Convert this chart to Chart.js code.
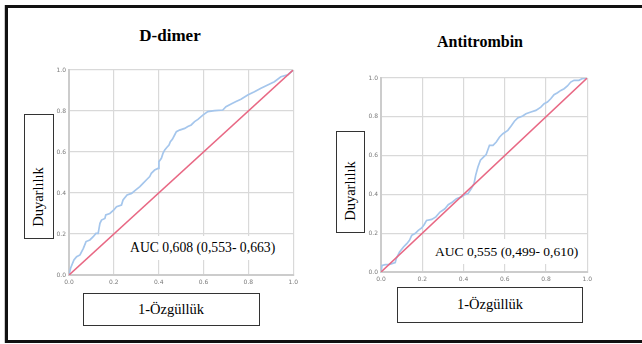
<!DOCTYPE html>
<html>
<head>
<meta charset="utf-8">
<script src="https://cdn.jsdelivr.net/npm/chart.js@4/dist/chart.umd.min.js"></script>
<style>
  html, body { margin:0; padding:0; background:#fff; width:642px; height:344px; overflow:hidden; }
  .frame { position:absolute; left:5px; top:5px; width:700px; height:332px; border:3px solid #111; border-right:none; box-shadow:-1px 0 0 #ccc; }
  .abs { position:absolute; font-family:"Liberation Serif","Times New Roman",serif; color:#000; white-space:nowrap; }
  .title { font-weight:bold; font-size:17px; transform:translate(-50%,-50%); }
  .box { position:absolute; border:1px solid #333; background:#fff; }
  .lbl { font-size:14.5px; transform:translate(-50%,-50%); }
  .ylbl { font-size:14.5px; transform:translate(-50%,-50%) rotate(-90deg); }
  .auc { position:absolute; background:#fff; font-family:"Liberation Serif","Times New Roman",serif; font-size:13.7px; display:flex; align-items:center; justify-content:flex-start; white-space:nowrap; box-sizing:border-box; }
  canvas { position:absolute; }
</style>
</head>
<body>
<div class="frame"></div>

<canvas id="c1" width="252" height="227" style="left:50px;top:62px;width:252px;height:227px"></canvas>
<canvas id="c2" width="234" height="216" style="left:362px;top:70px;width:234px;height:216px"></canvas>

<div class="abs title" style="left:170px;top:36px">D-dimer</div>
<div class="abs title" style="left:480px;top:42px;font-size:16px">Antitrombin</div>

<div class="box" style="left:24px;top:114px;width:28px;height:123px"></div>
<div class="abs ylbl" style="left:38px;top:197px">Duyarlılık</div>
<div class="box" style="left:336px;top:131px;width:27px;height:100px"></div>
<div class="abs ylbl" style="left:350px;top:191px">Duyarlılık</div>

<div class="box" style="left:83px;top:293px;width:175px;height:31px"></div>
<div class="abs lbl" style="left:171px;top:309px">1-Özgüllük</div>
<div class="box" style="left:397px;top:287px;width:184px;height:34px"></div>
<div class="abs lbl" style="left:490px;top:304px">1-Özgüllük</div>

<div class="auc" style="left:127px;top:236px;width:166px;height:24px;padding-left:3px">AUC 0,608 (0,553- 0,663)</div>
<div class="auc" style="left:432px;top:239px;width:155px;height:25px;font-size:13.5px;padding-left:3px">AUC 0,555 (0,499- 0,610)</div>

<script>
// ---- Data ----
const ddimerFpr = [0,0.007,0.022,0.034,0.049,0.064,0.076,0.093,0.108,0.12,0.13,0.138,0.145,0.16,0.164,0.182,0.2,0.212,0.234,0.241,0.259,0.279,0.298,0.316,0.33,0.348,0.36,0.367,0.382,0.397,0.401,0.412,0.419,0.427,0.437,0.446,0.452,0.461,0.471,0.479,0.493,0.516,0.53,0.545,0.56,0.575,0.597,0.619,0.649,0.686,0.70,0.723,0.745,0.767,0.797,0.827,0.856,0.886,0.916,0.945,0.975,1];
const ddimerTpr = [0,0.033,0.073,0.089,0.098,0.13,0.163,0.171,0.187,0.203,0.203,0.252,0.268,0.276,0.293,0.30,0.317,0.333,0.341,0.366,0.39,0.398,0.415,0.431,0.447,0.467,0.48,0.496,0.512,0.52,0.553,0.569,0.593,0.61,0.623,0.634,0.65,0.662,0.683,0.699,0.707,0.715,0.724,0.732,0.748,0.759,0.78,0.797,0.802,0.805,0.821,0.834,0.846,0.857,0.878,0.894,0.911,0.927,0.943,0.967,0.976,1];

const atFpr = [0,0.005,0.021,0.037,0.053,0.069,0.074,0.09,0.109,0.125,0.138,0.149,0.165,0.181,0.197,0.209,0.221,0.246,0.266,0.286,0.31,0.326,0.347,0.366,0.39,0.406,0.422,0.438,0.451,0.459,0.47,0.482,0.498,0.51,0.526,0.543,0.559,0.575,0.591,0.615,0.631,0.647,0.663,0.687,0.703,0.727,0.751,0.775,0.791,0.807,0.823,0.839,0.856,0.872,0.888,0.904,0.92,0.936,0.96,0.976,1];
const atTpr = [0,0.034,0.038,0.038,0.043,0.048,0.069,0.103,0.129,0.146,0.163,0.189,0.198,0.215,0.227,0.244,0.266,0.271,0.284,0.309,0.326,0.347,0.361,0.378,0.387,0.399,0.404,0.43,0.455,0.498,0.541,0.576,0.593,0.605,0.653,0.653,0.67,0.696,0.713,0.73,0.753,0.777,0.794,0.804,0.816,0.825,0.833,0.85,0.868,0.876,0.893,0.914,0.924,0.936,0.945,0.959,0.979,0.988,0.988,0.997,1];

const diagonalX = [0, 1];
const diagonalY = [0, 1];
const tickValues = [0, 0.2, 0.4, 0.6, 0.8, 1.0];
const tickLabels = ["0.0", "0.2", "0.4", "0.6", "0.8", "1.0"];

// ---- Helpers ----
function pts(xs, ys) { return xs.map((x, i) => ({ x: x, y: ys[i] })); }

function makeChart(id, fpr, tpr) {
  const tickFont = { family: "DejaVu Sans", size: 6 };
  const axisCommon = {
    type: 'linear', min: 0, max: 1,
    afterBuildTicks: (s) => { s.ticks = tickValues.map(v => ({ value: v })); },
    grid: { color: '#d9d9d9', lineWidth: 1.2, drawTicks: false },
    border: { color: '#cccccc', width: 2 }
  };
  new Chart(document.getElementById(id), {
    type: 'scatter',
    data: {
      datasets: [
        { data: pts(diagonalX, diagonalY), showLine: true, borderColor: 'rgb(232,104,132)', borderWidth: 1.6, pointRadius: 0, tension: 0 },
        { data: pts(fpr, tpr), showLine: true, borderColor: 'rgb(165,198,236)', borderWidth: 1.7, pointRadius: 0, tension: 0 }
      ]
    },
    options: {
      responsive: false, animation: false, devicePixelRatio: 1,
      layout: { padding: { top: 8, right: 8, left: 0, bottom: 0 } },
      plugins: { legend: { display: false }, tooltip: { enabled: false } },
      scales: {
        x: Object.assign({}, axisCommon, {
          afterFit: (s) => { s.height = 14; },
          ticks: { autoSkip: false, maxRotation: 0, font: tickFont, color: '#7a7a7a', padding: 4,
                   callback: (v) => tickLabels[tickValues.findIndex(t => Math.abs(t - v) < 1e-6)] }
        }),
        y: Object.assign({}, axisCommon, {
          afterFit: (s) => { s.width = 19; },
          ticks: { autoSkip: false, font: tickFont, color: '#7a7a7a', padding: 3,
                   callback: (v) => tickLabels[tickValues.findIndex(t => Math.abs(t - v) < 1e-6)] }
        })
      }
    }
  });
}

makeChart('c1', ddimerFpr, ddimerTpr);
makeChart('c2', atFpr, atTpr);
</script>
</body>
</html>
